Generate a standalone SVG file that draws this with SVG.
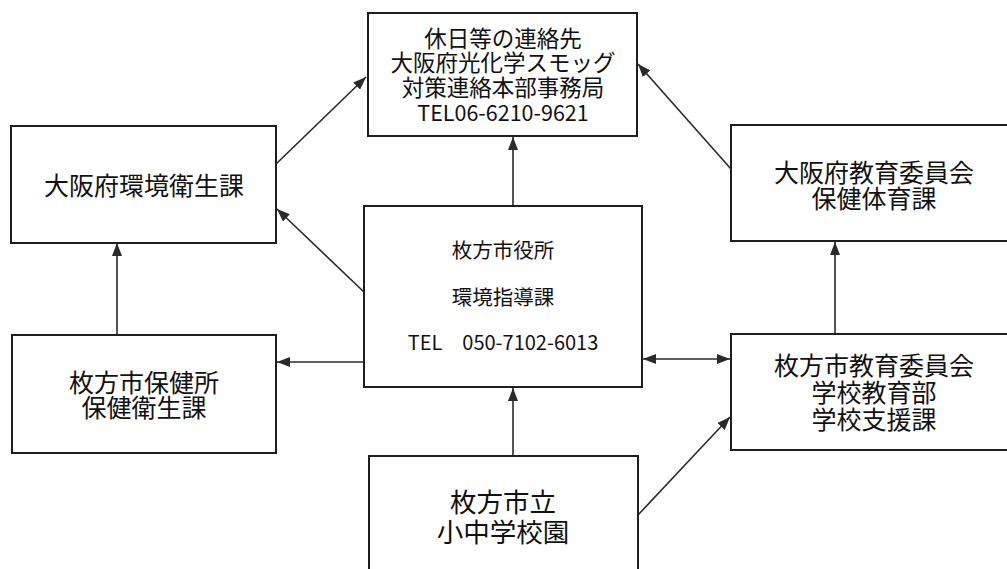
<svg xmlns="http://www.w3.org/2000/svg" width="1007" height="569" viewBox="0 0 1007 569">
<defs>
<marker id="ah" markerUnits="userSpaceOnUse" markerWidth="13" markerHeight="10" refX="13" refY="5" orient="auto-start-reverse">
<path d="M0,0 L13,5 L0,10 z" fill="#2a2a2a"/>
</marker>
<style>
.box{fill:#fff;stroke:#1e1e1e;stroke-width:2}
.t{font-family:"Noto Sans CJK JP","Noto Sans CJK SC",sans-serif;fill:#111;text-anchor:middle}
.c{stroke:#2a2a2a;stroke-width:1.6;fill:none;marker-end:url(#ah)}
</style>
</defs>
<rect width="1007" height="569" fill="#fff"/>
<g id="connectors">
<line class="c" x1="276" y1="164" x2="366" y2="77"/>
<line class="c" x1="365" y1="293" x2="277" y2="209"/>
<line class="c" x1="513" y1="206" x2="513" y2="137"/>
<line class="c" x1="731" y1="169" x2="638" y2="64"/>
<line class="c" x1="117" y1="335" x2="117" y2="243"/>
<line class="c" x1="364" y1="362" x2="277" y2="362"/>
<line class="c" x1="643" y1="359" x2="730" y2="359" style="marker-start:url(#ah)"/>
<line class="c" x1="835" y1="334" x2="835" y2="242"/>
<line class="c" x1="513" y1="456" x2="513" y2="388"/>
<line class="c" x1="638" y1="515" x2="730" y2="417"/>
</g>
<g id="top">
<rect class="box" x="368" y="13" width="269" height="123"/>
<text class="t" font-size="22.5"><tspan x="503" y="46.5">休日等の連絡先</tspan><tspan x="503" y="70.5">大阪府光化学スモッグ</tspan><tspan x="503" y="95.5">対策連絡本部事務局</tspan><tspan x="503" y="121" font-size="21.5">TEL06-6210-9621</tspan></text>
</g>
<g id="left1">
<rect class="box" x="11" y="126" width="265" height="117"/>
<text class="t" font-size="25" x="144" y="194.5">大阪府環境衛生課</text>
</g>
<g id="left2">
<rect class="box" x="12" y="335" width="264" height="118"/>
<text class="t" font-size="25"><tspan x="144" y="392">枚方市保健所</tspan><tspan x="144" y="417">保健衛生課</tspan></text>
</g>
<g id="center">
<rect class="box" x="364" y="206" width="278" height="181"/>
<text class="t" font-size="20.5" x="503" y="258">枚方市役所</text>
<text class="t" font-size="20.5" x="503" y="305">環境指導課</text>
<text class="t" font-size="20" x="503" y="350">TEL　050-7102-6013</text>
</g>
<g id="right1">
<rect class="box" x="731" y="125" width="290" height="116"/>
<text class="t" font-size="25"><tspan x="874" y="181.5">大阪府教育委員会</tspan><tspan x="874" y="207.5">保健体育課</tspan></text>
</g>
<g id="right2">
<rect class="box" x="731" y="334" width="290" height="116"/>
<text class="t" font-size="25"><tspan x="874" y="374.5">枚方市教育委員会</tspan><tspan x="874" y="401.5">学校教育部</tspan><tspan x="874" y="428.5">学校支援課</tspan></text>
</g>
<g id="bottom">
<rect class="box" x="369" y="456" width="269" height="130"/>
<text class="t" font-size="26.5"><tspan x="503" y="511.5">枚方市立</tspan><tspan x="503" y="542">小中学校園</tspan></text>
</g>
</svg>
